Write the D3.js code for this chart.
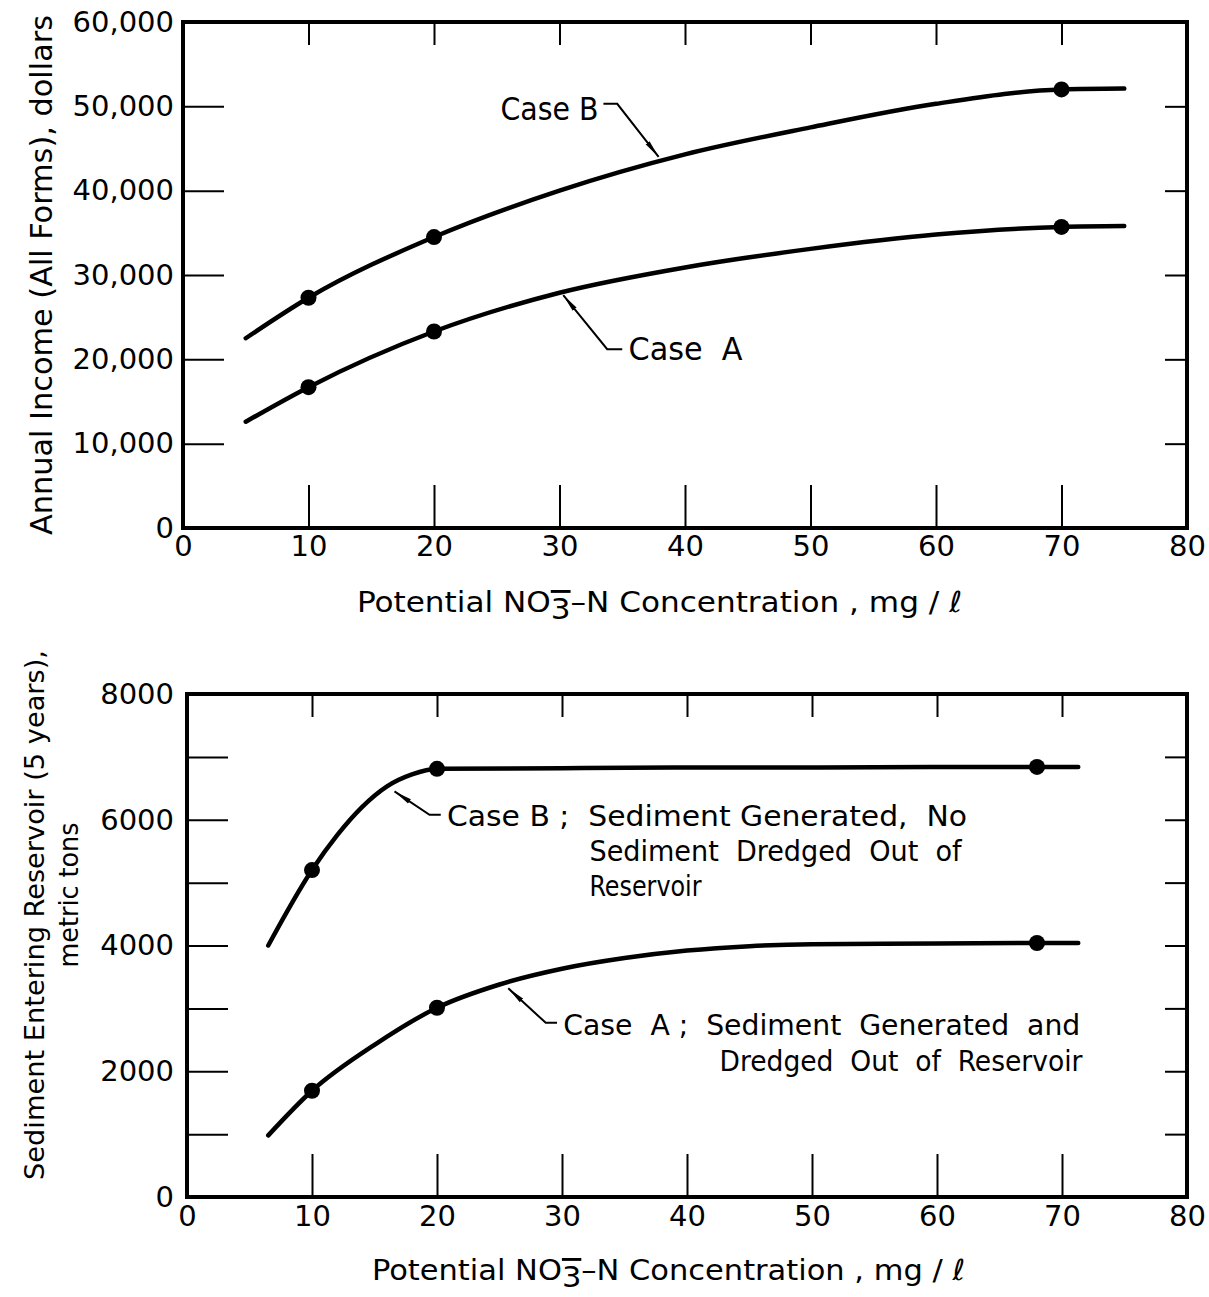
<!DOCTYPE html>
<html><head><meta charset="utf-8">
<script src="https://cdn.jsdelivr.net/npm/d3@7"></script>
<style>body{margin:0;background:#fff}</style>
</head><body>
<svg id="c" width="1209" height="1297" xmlns="http://www.w3.org/2000/svg"></svg>
<script>
// ---------- data ----------
const xTicks = [0, 10, 20, 30, 40, 50, 60, 70, 80];
const incomeTicks = [0, 10000, 20000, 30000, 40000, 50000, 60000];
const sedTicks = [0, 1000, 2000, 3000, 4000, 5000, 6000, 7000, 8000];
const sedTickLabels = [0, 2000, 4000, 6000, 8000];

const incomeX = [5, 10, 20, 30, 40, 50, 60, 70, 75];
const incomeCaseB = [22500, 27300, 34500, 40000, 44300, 47500, 50300, 52000, 52100];
const incomeCaseA = [12600, 16700, 23300, 27900, 30900, 33100, 34800, 35700, 35800];
const incomeMarkX = [10, 20, 70];
const incomeMarkB = [27300, 34500, 52000];
const incomeMarkA = [16700, 23300, 35700];

const sedXB = [6.5, 10, 12, 14, 16, 18, 20, 30, 40, 50, 60, 68, 71.3];
const sedCaseB = [4000, 5200, 5750, 6200, 6530, 6720, 6810, 6820, 6830, 6830, 6840, 6840, 6840];
const sedXA = [6.5, 10, 15, 20, 25, 30, 35, 40, 45, 50, 60, 68, 71.3];
const sedCaseA = [980, 1690, 2420, 3010, 3380, 3630, 3800, 3920, 3990, 4020, 4030, 4040, 4040];
const sedMarkX = [10, 20, 68];
const sedMarkB = [5200, 6810, 6840];
const sedMarkA = [1690, 3010, 4040];

// ---------- drawing ----------
const svg = d3.select("#c");
const LBL = "'Liberation Sans Narrow','DejaVu Sans Condensed','Liberation Sans',Roboto,sans-serif";
const NUM = "'DejaVu Sans',sans-serif";

svg.append("defs").append("marker")
  .attr("id", "arr").attr("viewBox", "0 0 18 6").attr("refX", 18).attr("refY", 3)
  .attr("markerWidth", 18).attr("markerHeight", 6).attr("markerUnits", "userSpaceOnUse")
  .attr("orient", "auto")
  .append("path").attr("d", "M0,0.5 L18,3 L0,5.5 Z").attr("fill", "#000");

function panel(cfg) {
  const x = d3.scaleLinear().domain([0, 80]).range([cfg.x0, cfg.x1]);
  const y = d3.scaleLinear().domain([0, cfg.ymax]).range([cfg.y1, cfg.y0]);
  const g = svg.append("g");

  const styleAxis = (sel) => {
    sel.select(".domain").remove();
    sel.selectAll(".tick line").attr("stroke", "#000").attr("stroke-width", 2);
    sel.selectAll(".tick text").attr("fill", "#000").attr("font-family", NUM).attr("font-size", 29);
  };
  g.append("g").attr("transform", `translate(0,${cfg.y1})`)
    .call(d3.axisBottom(x).tickValues(xTicks).tickSizeInner(-43).tickSizeOuter(0).tickPadding(cfg.xPad))
    .call(styleAxis);
  g.append("g").attr("transform", `translate(0,${cfg.y0})`)
    .call(d3.axisTop(x).tickValues(xTicks.slice(1, -1)).tickSizeInner(-23).tickSizeOuter(0).tickFormat(""))
    .call(styleAxis);
  g.append("g").attr("transform", `translate(${cfg.x0},0)`)
    .call(d3.axisLeft(y).tickValues(cfg.yTicks).tickSizeInner(-41).tickSizeOuter(0).tickPadding(cfg.yPad)
      .tickFormat(cfg.yFmt))
    .call(styleAxis);
  g.append("g").attr("transform", `translate(${cfg.x1},0)`)
    .call(d3.axisRight(y).tickValues(cfg.yTicks.slice(1, -1)).tickSizeInner(-22).tickSizeOuter(0).tickFormat(""))
    .call(styleAxis);

  g.append("rect").attr("x", cfg.x0).attr("y", cfg.y0)
    .attr("width", cfg.x1 - cfg.x0).attr("height", cfg.y1 - cfg.y0)
    .attr("fill", "none").attr("stroke", "#000").attr("stroke-width", 4);

  const line = d3.line().x(d => x(d[0])).y(d => y(d[1])).curve(d3.curveMonotoneX);
  cfg.series.forEach(s => {
    g.append("path").datum(s.xs.map((v, i) => [v, s.ys[i]]))
      .attr("d", line).attr("fill", "none").attr("stroke", "#000")
      .attr("stroke-width", 4.5).attr("stroke-linecap", "round");
    g.selectAll(null).data(s.mx.map((v, i) => [v, s.my[i]])).enter().append("circle")
      .attr("cx", d => x(d[0])).attr("cy", d => y(d[1])).attr("r", 8).attr("fill", "#000");
  });

  cfg.notes.forEach(n => {
    g.append("path")
      .attr("d", d3.line()(n.leader.map(p => [x(p[0]), y(p[1])])))
      .attr("fill", "none").attr("stroke", "#000").attr("stroke-width", 2)
      .attr("marker-end", "url(#arr)");
    n.lines.forEach(l => {
      g.append("text").attr("x", x(l.x)).attr("y", y(l.y))
        .attr("font-family", LBL).attr("font-size", n.size)
        .attr("textLength", l.w).attr("lengthAdjust", "spacingAndGlyphs")
        .attr("xml:space", "preserve")
        .text(l.t);
    });
  });

  const xt = g.append("text").attr("x", cfg.xTitle.x).attr("y", cfg.xTitle.y)
    .attr("font-family", LBL).attr("font-size", 29)
    .attr("textLength", cfg.xTitle.w).attr("lengthAdjust", "spacingAndGlyphs");
  xt.append("tspan").text("Potential  NO");
  xt.append("tspan").attr("dy", 7).attr("text-decoration", "overline").text("3");
  xt.append("tspan").attr("dy", -7).text("–N  Concentration ,  mg / ℓ");

  cfg.yTitles.forEach(t => {
    g.append("text").attr("transform", `translate(${t.x},${t.y}) rotate(-90)`)
      .attr("text-anchor", "middle").attr("font-family", LBL).attr("font-size", t.size)
      .attr("textLength", t.w).attr("lengthAdjust", "spacingAndGlyphs")
      .text(t.t);
  });
}

panel({
  x0: 183, x1: 1187, y0: 22, y1: 528, ymax: 60000,
  yTicks: incomeTicks, yFmt: d3.format(","), xPad: 7, yPad: 9,
  series: [
    {xs: incomeX, ys: incomeCaseB, mx: incomeMarkX, my: incomeMarkB},
    {xs: incomeX, ys: incomeCaseA, mx: incomeMarkX, my: incomeMarkA}
  ],
  notes: [
    {size: 32, leader: [[33.5, 50300], [34.6, 50300], [37.9, 44000]],
     lines: [{x: 25.3, y: 48400, w: 98, t: "Case B"}]},
    {size: 32, leader: [[35.0, 21200], [33.8, 21200], [30.3, 27600]],
     lines: [{x: 35.5, y: 19900, w: 114, t: "Case  A"}]}
  ],
  xTitle: {x: 357, y: 612, w: 605},
  yTitles: [{x: 52, y: 275, size: 30, w: 520, t: "Annual Income (All Forms),  dollars"}]
});

panel({
  x0: 187, x1: 1187, y0: 694, y1: 1197, ymax: 8000,
  yTicks: sedTicks, yFmt: d => sedTickLabels.includes(d) ? String(d) : "", xPad: 8, yPad: 13,
  series: [
    {xs: sedXB, ys: sedCaseB, mx: sedMarkX, my: sedMarkB},
    {xs: sedXA, ys: sedCaseA, mx: sedMarkX, my: sedMarkA}
  ],
  notes: [
    {size: 28, leader: [[20.3, 6080], [19.4, 6080], [16.6, 6450]],
     lines: [
       {x: 20.8, y: 5900, w: 520, t: "Case B ;  Sediment Generated,  No"},
       {x: 32.2, y: 5345, w: 372, t: "Sediment  Dredged  Out  of"},
       {x: 32.2, y: 4790, w: 112, t: "Reservoir"}
     ]},
    {size: 28, leader: [[29.6, 2770], [28.7, 2770], [25.7, 3320]],
     lines: [
       {x: 30.1, y: 2575, w: 517, t: "Case  A ;  Sediment  Generated  and"},
       {x: 42.6, y: 2005, w: 363, t: "Dredged  Out  of  Reservoir"}
     ]}
  ],
  xTitle: {x: 372, y: 1280, w: 593},
  yTitles: [
    {x: 44, y: 915, size: 27, w: 530, t: "Sediment Entering Reservoir (5 years),"},
    {x: 78, y: 895, size: 27, w: 145, t: "metric tons"}
  ]
});
</script>
</body></html>
